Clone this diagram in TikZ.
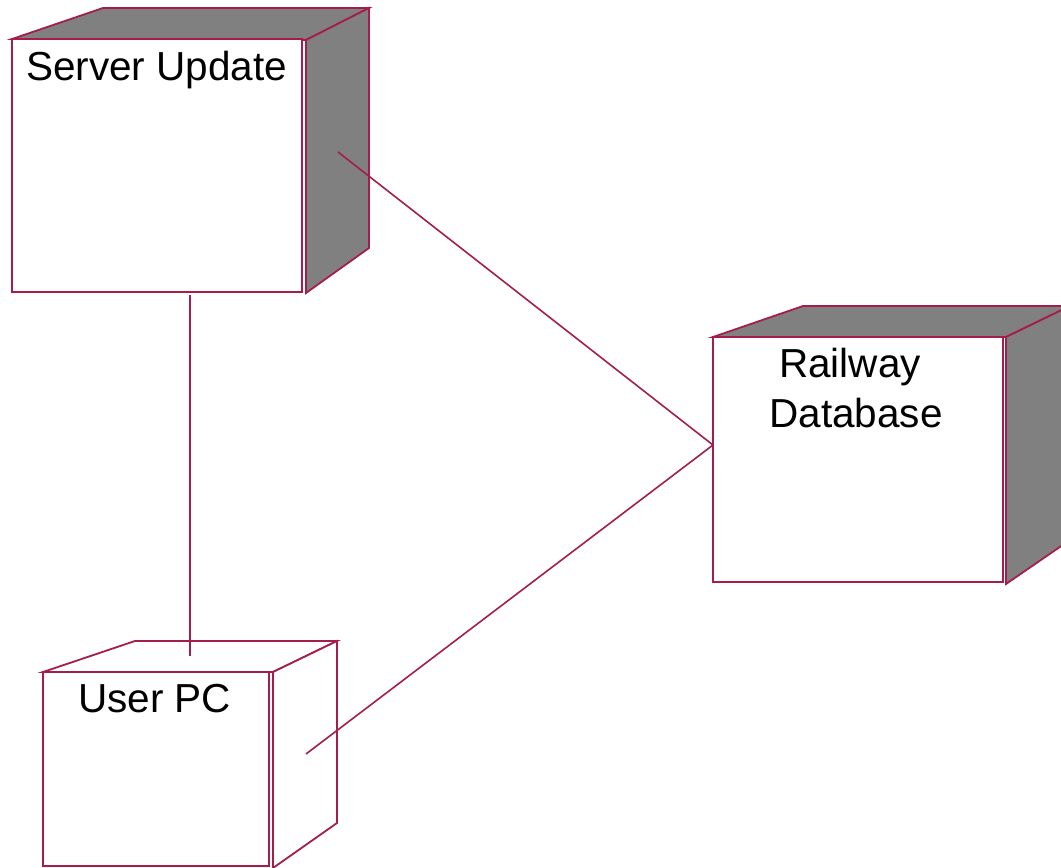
\documentclass[tikz,border=0pt]{standalone}
\usepackage{fontspec}
\setmainfont{Liberation Sans}
\definecolor{edge}{RGB}{165,30,75}
\definecolor{side}{RGB}{128,128,128}
\begin{document}
\begin{tikzpicture}[x=1pt,y=-1pt,line join=miter,
  face/.style={draw=edge,line width=1.8pt},
  link/.style={draw=edge,line width=1.6pt},
  label/.style={font=\fontsize{40.5}{48}\selectfont,inner sep=0pt}]
\useasboundingbox (0,0) rectangle (1061,868);

% Server Update node (shaded cube)
\filldraw[face,fill=side] (12,39) -- (103,8) -- (369,8) -- (306,40) -- cycle;
\filldraw[face,fill=side] (306,40) -- (369,8) -- (369,248) -- (306,293) -- cycle;
\filldraw[face,fill=white] (12,39) rectangle (302,292);
\draw[face] (306,40) -- (306,293);
\node[label,anchor=base west] (su) at (26,80) {Server Update};

% Railway Database node (shaded cube)
\filldraw[face,fill=side] (713,337) -- (803,306) -- (1070,306) -- (1006,337) -- cycle;
\filldraw[face,fill=side] (1006,337) -- (1070,306) -- (1070,540) -- (1006,584) -- cycle;
\filldraw[face,fill=white] (713,337) rectangle (1003,582);
\draw[face] (1006,337) -- (1006,584);
\node[label,anchor=base] (rd1) at (850,377) {Railway};
\node[label,anchor=base] (rd2) at (856,427) {Database};

% User PC node (plain cube)
\filldraw[face,fill=white] (43,672) -- (135,641) -- (337,641) -- (273,672) -- cycle;
\filldraw[face,fill=white] (273,672) -- (337,641) -- (337,823) -- (273,868) -- cycle;
\filldraw[face,fill=white] (43,672) rectangle (269,866);
\draw[face] (273,672) -- (273,868);
\node[label,anchor=base west] (pc) at (78,712) {User PC};

% connector ends
\coordinate (suR) at (338,152);
\coordinate (suB) at (190,295);
\coordinate (rdL) at (713,445);
\coordinate (pcT) at (190,656);
\coordinate (pcR) at (306,754);

% links
\draw[link] (suR) -- (rdL);
\draw[link] (pcR) -- (rdL);
\draw[link] (suB) -- (pcT);
\end{tikzpicture}
\end{document}
